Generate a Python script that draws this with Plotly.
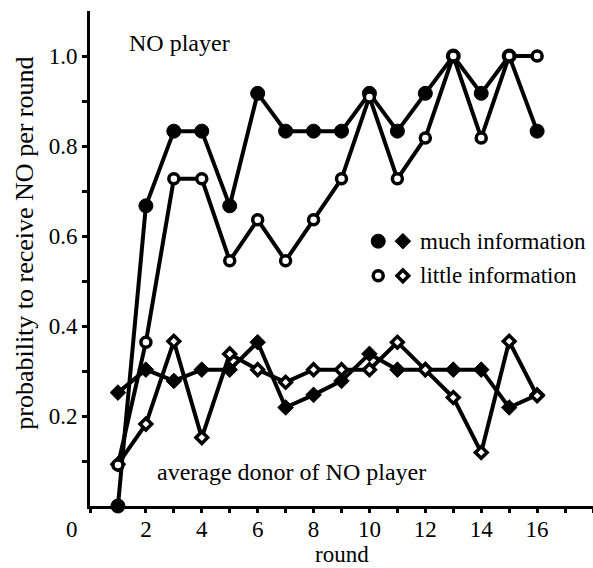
import plotly.graph_objects as go

rounds = list(range(1, 17))
much_info_player = [0.0, 0.667, 0.833, 0.833, 0.667, 0.917, 0.833, 0.833,
                    0.833, 0.917, 0.833, 0.917, 1.0, 0.917, 1.0, 0.833]
little_info_player = [0.091, 0.364, 0.727, 0.727, 0.545, 0.636, 0.545, 0.636,
                      0.727, 0.909, 0.727, 0.818, 1.0, 0.818, 1.0, 1.0]
much_info_donor = [0.252, 0.303, 0.278, 0.303, 0.303, 0.364, 0.219, 0.247,
                   0.278, 0.338, 0.303, 0.303, 0.303, 0.303, 0.219, 0.247]
little_info_donor = [0.093, 0.182, 0.366, 0.152, 0.338, 0.303, 0.275, 0.303,
                     0.303, 0.303, 0.364, 0.303, 0.241, 0.119, 0.366, 0.245]

x_tick_vals = list(range(0, 19))
x_tick_text = ["" if (v % 2 or v == 0) else str(v) for v in x_tick_vals]
y_tick_vals = [round(0.1 * i, 1) for i in range(1, 11)]
y_tick_text = [f"{v:.1f}" if i % 2 == 1 else "" for i, v in enumerate(y_tick_vals)]

FONT = "Liberation Serif"
BLACK = "black"

fig = go.Figure()

def add_series(y, symbol, size, filled):
    fig.add_trace(go.Scatter(
        x=rounds, y=y, mode="lines+markers",
        line=dict(color=BLACK, width=4),
        marker=dict(symbol=symbol, size=size,
                    color=BLACK if filled else "white",
                    line=dict(color=BLACK, width=1 if filled else 3.5)),
        showlegend=False, cliponaxis=False))

add_series(much_info_donor, "diamond", 12, True)
add_series(little_info_donor, "diamond", 9, False)
add_series(much_info_player, "circle", 14, True)
add_series(little_info_player, "circle", 10, False)

# legend keys (overlay axis in [0,1] fractions)
legend_rows = [("much information", True), ("little information", False)]
legend_y = [0.535, 0.465]
for (label, filled), ly in zip(legend_rows, legend_y):
    fig.add_trace(go.Scatter(
        x=[0.573], y=[ly], xaxis="x2", yaxis="y2", mode="markers",
        marker=dict(symbol="circle", size=14 if filled else 10,
                    color=BLACK if filled else "white",
                    line=dict(color=BLACK, width=1 if filled else 3.5)),
        showlegend=False, hoverinfo="skip"))
    fig.add_trace(go.Scatter(
        x=[0.622], y=[ly], xaxis="x2", yaxis="y2", mode="markers",
        marker=dict(symbol="diamond", size=12 if filled else 9,
                    color=BLACK if filled else "white",
                    line=dict(color=BLACK, width=1 if filled else 3.5)),
        showlegend=False, hoverinfo="skip"))
    fig.add_annotation(x=0.652, y=ly, xref="paper", yref="paper",
                       text=label, showarrow=False, xanchor="left",
                       yanchor="middle", font=dict(size=23, color=BLACK))

fig.add_annotation(x=0.0736, y=0.935, xref="paper", yref="paper",
                   text="NO player", showarrow=False, xanchor="left",
                   yanchor="middle", font=dict(size=24, color=BLACK))
fig.add_annotation(x=0.129, y=0.069, xref="paper", yref="paper",
                   text="average donor of NO player", showarrow=False,
                   xanchor="left", yanchor="middle",
                   font=dict(size=24, color=BLACK))
fig.add_annotation(x=-0.036, y=-0.047, xref="paper", yref="paper",
                   text="0", showarrow=False, xanchor="center",
                   yanchor="middle", font=dict(size=23, color=BLACK))
fig.add_annotation(x=0.501, y=-0.097, xref="paper", yref="paper",
                   text="round", showarrow=False, xanchor="center",
                   yanchor="middle", font=dict(size=23, color=BLACK))
fig.add_annotation(x=-0.129, y=0.53, xref="paper", yref="paper",
                   text="probability to receive NO per round", showarrow=False,
                   textangle=-90, xanchor="center", yanchor="middle",
                   font=dict(size=26, color=BLACK))

fig.update_layout(
    width=593, height=568,
    margin=dict(l=90, r=0, t=11, b=62),
    paper_bgcolor="white", plot_bgcolor="white",
    font=dict(family=FONT, color=BLACK),
    xaxis=dict(range=[0, 18], tickmode="array", tickvals=x_tick_vals,
               ticktext=x_tick_text, ticks="outside", ticklen=4, tickwidth=2.5,
               tickcolor=BLACK, showline=True, linecolor=BLACK, linewidth=3,
               showgrid=False, zeroline=False, tickfont=dict(size=23),
               ticklabelstandoff=-4),
    yaxis=dict(range=[0, 1.1], tickmode="array", tickvals=y_tick_vals,
               ticktext=y_tick_text, ticks="outside", ticklen=5, tickwidth=2.5,
               tickcolor=BLACK, showline=True, linecolor=BLACK, linewidth=3,
               showgrid=False, zeroline=False, tickfont=dict(size=23)),
    xaxis2=dict(range=[0, 1], overlaying="x", visible=False),
    yaxis2=dict(range=[0, 1], overlaying="y", visible=False),
)

fig.write_html("out.html", config={"displayModeBar": False},
               post_script="document.body.style.margin='0';")
